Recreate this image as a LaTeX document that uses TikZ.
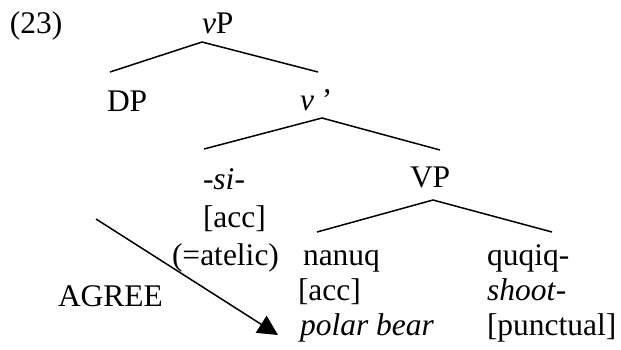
\documentclass[tikz,border=0pt]{standalone}
\usepackage{fontspec}
\setmainfont{Liberation Serif}
\usetikzlibrary{arrows.meta}
\begin{document}
\begin{tikzpicture}[x=0.5pt,y=-0.5pt,
  every node/.style={inner sep=0pt, outer sep=0pt, font=\fontsize{15.75}{18}\selectfont, anchor=base west},
  branch/.style={line width=0.75pt},
  agreearrow/.style={line width=0.75pt, -{Triangle[length=10pt,width=10pt]}}]
\useasboundingbox (0,0) rectangle (621,349);
% labels
\node (ex) at (10,33) {(23)};
\node (vP) at (202,33) {\textit{v}P};
\node (DP) at (107,111) {DP};
\node (vbar) at (300,110) {\textit{v} ’};
\node (si) at (203,189) {-\textit{si}-};
\node (acc1) at (203,227) {[acc]};
\node (atelic) at (172,265) {(=atelic)};
\node (VP) at (410,187) {VP};
\node (nanuq) at (303,265) {nanuq};
\node (acc2) at (298,300) {[acc]};
\node (polar) at (300,335) {\textit{polar bear}};
\node (quqiq) at (487,265) {quqiq-};
\node (shoot) at (487,300) {\textit{shoot}-};
\node (punct) at (487,335) {[punctual]};
\node (agree) at (58,306) {AGREE};
% branch points
\coordinate (vPapex) at (202,42);
\coordinate (DPtop) at (110,72);
\coordinate (vbartop) at (318,72);
\coordinate (vbarapex) at (322,118);
\coordinate (sitop) at (204,149);
\coordinate (VPtop) at (440,150);
\coordinate (VPapex) at (433,200);
\coordinate (nanuqtop) at (317,232);
\coordinate (quqiqtop) at (552,232);
\coordinate (agstart) at (96,219);
\coordinate (agend) at (278,335);
% tree
\draw[branch] (DPtop) -- (vPapex) -- (vbartop);
\draw[branch] (sitop) -- (vbarapex) -- (VPtop);
\draw[branch] (nanuqtop) -- (VPapex) -- (quqiqtop);
% agree arrow
\draw[agreearrow] (agstart) -- (agend);
\end{tikzpicture}
\end{document}
